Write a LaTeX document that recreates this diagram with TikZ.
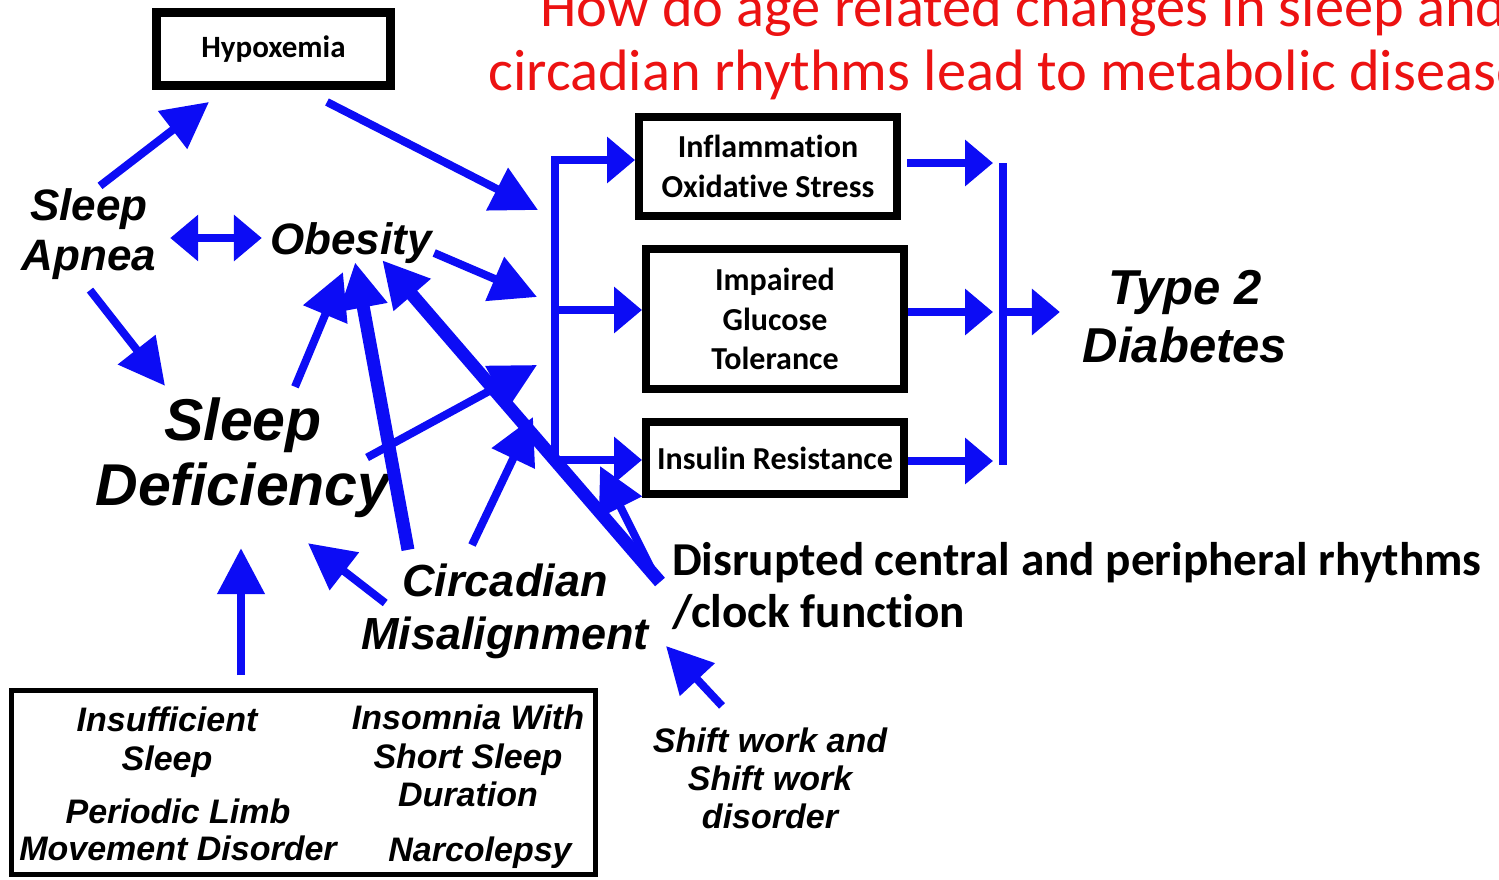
\documentclass[tikz,border=0pt]{standalone}
\usepackage{fontspec}
\setmainfont{Liberation Sans}
\newfontfamily\calibFont[Ligatures=NoCommon]{Carlito}
\usepackage{xcolor}
\definecolor{arrowBlue}{RGB}{12,12,245}
\definecolor{titleRed}{RGB}{236,18,18}
\usetikzlibrary{arrows.meta, calc}
\newcommand{\labelFont}[2]{\bfseries\itshape\fontsize{#1}{#2}\selectfont}
\newcommand{\boxFont}[2]{\calibFont\bfseries\fontsize{#1}{#2}\selectfont}

\begin{document}
\begin{tikzpicture}[
    x=0.5pt, y=-0.5pt,
    termNode/.style={inner sep=0pt, outer sep=0pt, align=center},
    factorBox/.style={draw=black, line width=4pt, align=center, inner sep=0pt, minimum width=129pt, font=\boxFont{16}{19.75}},
    flowArrow/.style={draw=arrowBlue, line width=4pt, -{Triangle[length=23pt, width=23pt]}},
    heavyArrow/.style={flowArrow, line width=6.5pt},
    branchArrow/.style={draw=arrowBlue, line width=4pt, -{Triangle[length=14pt, width=22.5pt]}},
    twoWayArrow/.style={draw=arrowBlue, line width=4pt, {Triangle[length=14pt, width=22.5pt]}-{Triangle[length=14pt, width=22.5pt]}},
    barLine/.style={draw=arrowBlue, line width=4pt},
    titleText/.style={inner sep=0pt, text=titleRed, font=\calibFont\fontsize{29.2}{32}\selectfont}
]
\useasboundingbox (0,0) rectangle (1499,879);
\clip (0,0) rectangle (1499,879);

% Title (runs off the page on the right)
\node[titleText, anchor=base west] (title1) at (540,26) {How do age related changes in sleep and};
\node[titleText, anchor=base west] (title2) at (488,90) {circadian rhythms lead to metabolic disease?};

% Boxed factors
\node[factorBox, line width=4.5pt, minimum width=117pt, minimum height=36.5pt, font=\boxFont{15.5}{19}] (hypox) at (273.5,49) {Hypoxemia};
\node[factorBox, minimum height=49.5pt] (inflam) at (768,166.5) {Inflammation\\Oxidative Stress};
\node[factorBox, minimum height=70pt] (glucose) at (775,319) {Impaired\\Glucose\\Tolerance};
\node[factorBox, minimum height=36pt] (insulin) at (775,458) {Insulin Resistance};

% Terms
\node[termNode, font=\labelFont{22}{25}] (apnea) at (89,234) {Sleep\\Apnea};
\node[termNode, font=\labelFont{22}{25}] (obesity) at (351,243) {Obesity};
\node[termNode, font=\labelFont{29.5}{32.5}] (sleepDef) at (243,457.5) {Sleep\\Deficiency};
\node[termNode, font=\labelFont{22.5}{26.5}] (circ) at (505,611.5) {Circadian\\Misalignment};
\node[termNode, font=\labelFont{24.5}{29}] (diabetes) at (1185,317) {Type 2\\Diabetes};
\node[termNode, align=left, anchor=north west, font=\boxFont{23.6}{26}] (disrupt) at (672,542) {Disrupted central and peripheral rhythms\\/clock function};
\node[termNode, font=\labelFont{17}{19}] (shift) at (770,778) {Shift work and\\Shift work\\disorder};

% Causes of sleep deficiency
\node[draw=black, line width=2.5pt, minimum width=292pt, minimum height=92pt, inner sep=0pt] (causes) at (303.5,782.5) {};
\node[termNode, font=\labelFont{17}{19.5}] (insuff) at (167,742) {Insufficient\\Sleep};
\node[termNode, font=\labelFont{17}{18.5}] (limb) at (178,830) {Periodic Limb\\Movement Disorder};
\node[termNode, font=\labelFont{17}{19.25}] (insom) at (468,756) {Insomnia With\\Short Sleep\\Duration};
\node[termNode, font=\labelFont{17}{19}] (narco) at (480,853) {Narcolepsy};

% Bracket points
\coordinate (bTop) at (555,160);
\coordinate (bMid) at (555,310);
\coordinate (bBot) at (555,460);
\coordinate (rTop) at (1003,163);
\coordinate (rMid) at (1003,312);
\coordinate (rBot) at (1003,461);

% Arrows on the left
\draw[flowArrow] ($(apnea.north)+(11,-2.6)$) -- ($(hypox.south)+(-64.5,12)$);
\draw[flowArrow] ($(hypox.south)+(53.5,12)$) -- ($(bTop)+(-17,50)$);
\draw[twoWayArrow] ($(apnea.east)+(14,4)$) -- ($(obesity.west)+(-8.5,-5)$);
\draw[flowArrow] ($(obesity.east)+(2.5,10)$) -- ($(bMid)+(-18,-13)$);
\draw[flowArrow] ($(apnea.south)+(1,10.6)$) -- ($(sleepDef.north)+(-78,-11.7)$);
\draw[flowArrow] ($(sleepDef.north)+(52,-10.7)$) -- ($(obesity.south)+(-8,8.6)$);
\draw[flowArrow] ($(sleepDef.east)+(-23.5,0)$) -- ($(bMid)+(-18,55)$);
\draw[heavyArrow] ($(circ.north)+(-97,-14.2)$) -- ($(obesity.south)+(4,-1.4)$);
\draw[heavyArrow] ($(disrupt.north west)+(-12,40)$) -- ($(obesity.south east)+(-49.5,-3.4)$);
\draw[flowArrow] ($(circ.north)+(-33,-19)$) -- ($(bBot)+(-22,-43)$);
\draw[flowArrow] ($(circ.west)+(24,-8.5)$) -- ($(sleepDef.south)+(65,25.7)$);
\draw[flowArrow] ($(disrupt.north west)+(-15,38)$) -- ($(insulin.south west)+(-42,-32)$);
\draw[flowArrow] ($(causes.north)+(-62.5,-13)$) -- ($(sleepDef.south)+(-2,30.7)$);
\draw[flowArrow] ($(shift.north)+(-48,-21.6)$) -- ($(disrupt.north west)+(-6,104)$);

% Bracket into the factor boxes
\draw[twoWayArrow] (inflam.west |- bTop) -- (bTop) -- (bBot) -- (insulin.west |- bBot);
\draw[branchArrow] (bMid) -- (glucose.west |- bMid);

% Bracket into type 2 diabetes
\draw[branchArrow] ($(inflam.east |- rTop)+(6,0)$) -- ($(rTop)+(-10,0)$);
\draw[branchArrow] (glucose.east |- rMid) -- ($(rMid)+(-10,0)$);
\draw[branchArrow] (insulin.east |- rBot) -- ($(rBot)+(-10,0)$);
\draw[barLine] (rTop) -- ($(rBot)+(0,4)$);
\draw[branchArrow] (rMid) -- ($(diabetes.west |- rMid)+(-23,0)$);

\end{tikzpicture}
\end{document}
